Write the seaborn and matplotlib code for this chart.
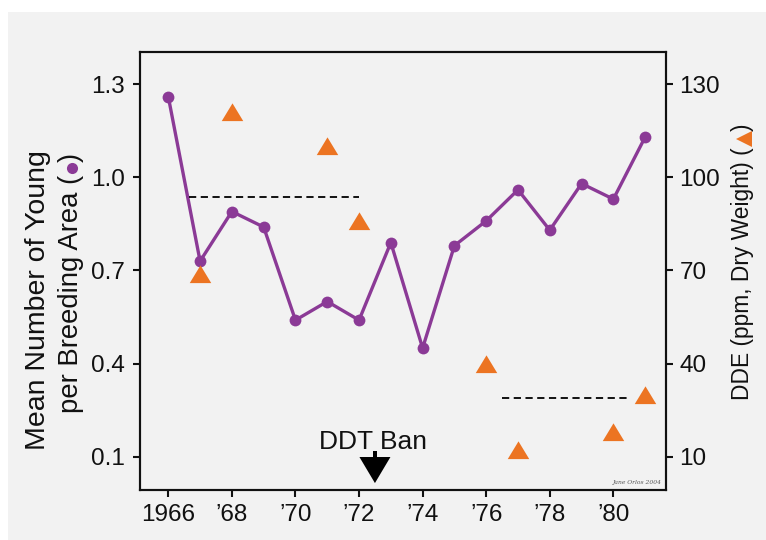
import matplotlib
matplotlib.use("Agg")
import matplotlib.pyplot as plt
import seaborn as sns
import pandas as pd
from matplotlib.patches import Rectangle, Polygon

# ---------------- data ----------------
years = [1966, 1967, 1968, 1969, 1970, 1971, 1972, 1973,
         1974, 1975, 1976, 1977, 1978, 1979, 1980, 1981]
young_per_area = [1.26, 0.73, 0.89, 0.84, 0.54, 0.60, 0.54, 0.79,
                  0.45, 0.78, 0.86, 0.96, 0.83, 0.98, 0.93, 1.13]

dde_years = [1967, 1968, 1971, 1972, 1976, 1977, 1980, 1981]
dde_ppm = [69, 121, 110, 86, 40, 12, 18, 30]

# mean DDE levels before / after the ban (start year, end year, level)
pre_ban_mean = [1966.65, 1972.0, 93.6]
post_ban_mean = [1976.5, 1980.5, 28.8]

x_ticks = [1966, 1968, 1970, 1972, 1974, 1976, 1978, 1980]
x_tick_labels = ["1966", "\u201968", "\u201970", "\u201972", "\u201974",
                 "\u201976", "\u201978", "\u201980"]
left_ticks = [0.1, 0.4, 0.7, 1.0, 1.3]
right_ticks = [10, 40, 70, 100, 130]
ddt_ban_year = 1972.5

# ---------------- style ----------------
PURPLE = "#8b3a96"
ORANGE = "#ec7422"
BG = "#f2f2f2"
INK = "#111111"
W, H = 766, 540

sns.set_theme(style="ticks")
plt.rcParams["font.family"] = ["Liberation Sans", "DejaVu Sans"]
plt.rcParams["axes.linewidth"] = 1.5
plt.rcParams["xtick.major.width"] = 1.5
plt.rcParams["ytick.major.width"] = 1.5
plt.rcParams["xtick.major.size"] = 5
plt.rcParams["ytick.major.size"] = 5


def px(x, y):
    return x / W, 1 - y / H


fig = plt.figure(figsize=(W / 100, H / 100), dpi=100, facecolor="white")
fig.patches.append(Rectangle(px(8, 540), 1, 1 - 12 / H, transform=fig.transFigure,
                             facecolor=BG, edgecolor="none", zorder=-10))

ax = fig.add_axes([140 / W, 1 - 490 / H, (665.7 - 140) / W, (490 - 51.7) / H])
ax.set_facecolor(BG)
ax2 = ax.twinx()

ylo, yhi = -0.0073, 1.405
ax.set_xlim(1965.11, 1981.646)
ax.set_ylim(ylo, yhi)
ax2.set_ylim(ylo * 100, yhi * 100)

df_young = pd.DataFrame({"year": years, "young": young_per_area})
sns.lineplot(data=df_young, x="year", y="young", ax=ax, color=PURPLE,
             linewidth=2.4, marker="o", markersize=8.5, markeredgewidth=0,
             zorder=3)

df_dde = pd.DataFrame({"year": dde_years, "dde": dde_ppm})
tri = [(-1.0, -0.8), (1.0, -0.8), (0.0, 0.85)]
sns.scatterplot(data=df_dde, x="year", y="dde", ax=ax2, color=ORANGE,
                marker=tri, s=15.5 ** 2, linewidth=0, zorder=4)

for seg in (pre_ban_mean, post_ban_mean):
    seg_df = pd.DataFrame({"year": [seg[0], seg[1]], "dde": [seg[2], seg[2]]})
    sns.lineplot(data=seg_df, x="year", y="dde", ax=ax2, color="black",
                 linewidth=1.3, linestyle=(0, (4, 2.5)), zorder=3)

# axes cosmetics
ax.set_xticks(x_ticks)
ax.set_xticklabels(x_tick_labels)
ax.set_yticks(left_ticks)
ax.set_yticklabels([f"{v:.1f}" for v in left_ticks])
ax2.set_yticks(right_ticks)
ax2.set_yticklabels([str(v) for v in right_ticks])
for a in (ax, ax2):
    a.set_xlabel("")
    a.set_ylabel("")
    for s in a.spines.values():
        s.set_visible(True)
        s.set_linewidth(1.5)
        s.set_color(INK)
ax.tick_params(axis="y", labelsize=17.5, colors=INK, pad=6)
ax.tick_params(axis="x", labelsize=17.5, colors=INK, pad=5)
ax2.tick_params(axis="y", labelsize=17.5, colors=INK, pad=5)
ax2.set_xlim(1965.11, 1981.646)

# DDT ban annotation
hw = 15.5 / 31.79
stem = 2.0 / 31.79
ax.add_patch(Polygon([(ddt_ban_year - hw, 0.099), (ddt_ban_year + hw, 0.099),
                      (ddt_ban_year, 0.015)], closed=True, facecolor="black",
                     edgecolor="none", zorder=5))
ax.add_patch(Rectangle((ddt_ban_year - stem, 0.095), 2 * stem, 0.024,
                       facecolor="black", edgecolor="none", zorder=5))
ax.text(ddt_ban_year - 0.05, 0.126, "DDT Ban", ha="center", va="baseline",
        fontsize=19, color=INK)

ax.text(0.992, 0.012, "Jane Orlos 2004", transform=ax.transAxes, ha="right",
        va="bottom", fontsize=4.3, style="italic", family="DejaVu Serif",
        color="#555555")


# axis labels with embedded marker keys (laid out from measured text extents)
def keyed_label(x, y_bottom, text, size, marker, msize, mcolor, gap, y_end,
                mdx=0.5):
    renderer = fig.canvas.get_renderer()
    t = fig.text(*px(x, y_bottom), text, rotation=90, ha="center",
                 va="bottom", fontsize=size, color=INK)
    bb = t.get_window_extent(renderer)
    close = fig.text(0, 0, ")", rotation=90, fontsize=size)
    cb = close.get_window_extent(renderer)
    close.remove()
    total = bb.height + 2 * gap + msize * 100 / 72 + cb.height
    size = size * (y_bottom - y_end) / total
    t.set_fontsize(size)
    bb = t.get_window_extent(renderer)
    top_img = H - bb.y1
    mc = top_img - gap - msize * 100 / 72 / 2
    fig.add_artist(plt.Line2D([(x + mdx) / W], [1 - mc / H], marker=marker,
                              markersize=msize, color=mcolor,
                              markeredgewidth=0, transform=fig.transFigure))
    fig.text(*px(x, mc - msize * 100 / 72 / 2 - gap), ")", rotation=90,
             ha="center", va="bottom", fontsize=size, color=INK)
    return size


fig.canvas.draw()
fig.text(*px(38, 300), "Mean Number of Young", rotation=90, ha="center",
         va="center", fontsize=20.5, color=INK)
keyed_label(71, 413, "per Breeding Area (", 20.5, "o", 8, PURPLE, 1.0, 153)
keyed_label(742, 400, "DDE (ppm, Dry Weight) (", 17, "<", 11, ORANGE, 0.5, 123,
            mdx=2.0)

fig.savefig("out.png", dpi=100, facecolor="white")
